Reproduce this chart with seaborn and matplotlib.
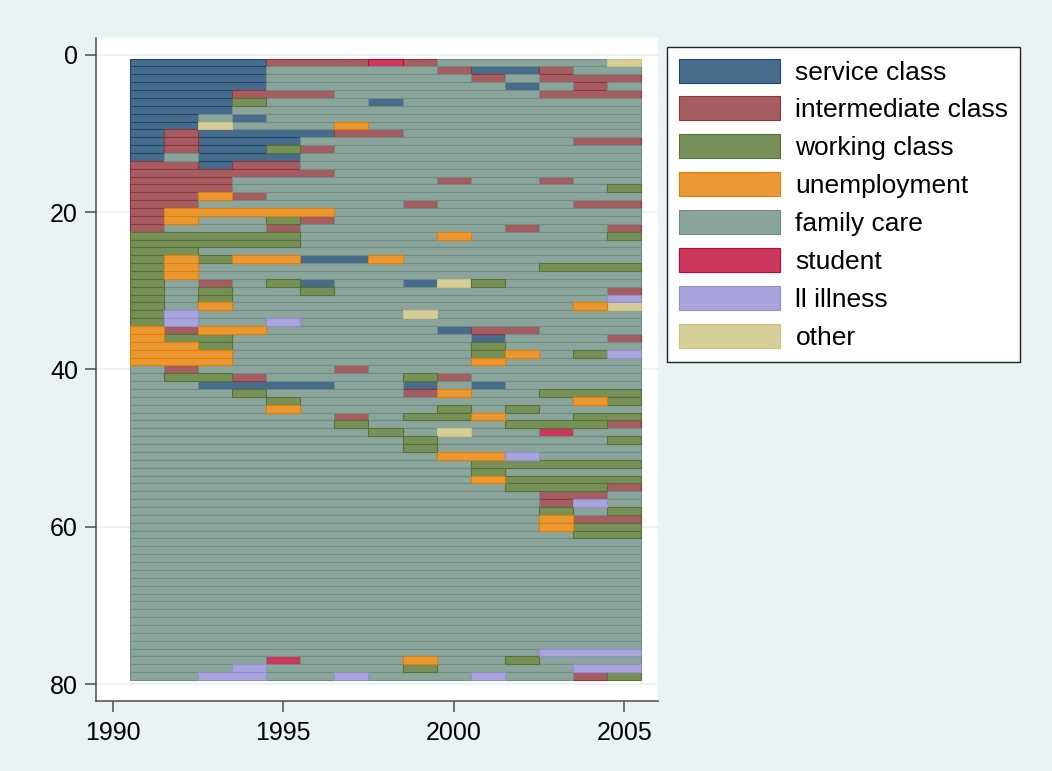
import matplotlib
matplotlib.use("Agg")
import matplotlib.pyplot as plt
from matplotlib.patches import Patch
import pandas as pd
import seaborn as sns

# Employment-status states (legend order), their codes and colours
states = ["service class", "intermediate class", "working class", "unemployment",
          "family care", "student", "ll illness", "other"]
state_codes = ["S", "I", "W", "U", "F", "T", "L", "O"]
fill_colors = ["#486c8c", "#a65d62", "#778f59", "#e99833",
               "#8ba59d", "#cd375d", "#a9a4db", "#d5ce98"]
edge_colors = ["#1a476f", "#90353b", "#55752f", "#e37e00",
               "#6e8e84", "#c10534", "#938dd2", "#cac27e"]

years = list(range(1991, 2006))

# One string per person, one letter per year 1991-2005
sequences = [
    "SSSSIIITIFFFFFO",
    "SSSSFFFFFISSIFF",
    "SSSSFFFFFFIFIII",
    "SSSSFFFFFFFSFIF",
    "SSSIIIFFFFFFIII",
    "SSSWFFFSFFFFFFF",
    "SSSFFFFFFFFFFFF",
    "SSFSFFFFFFFFFFF",
    "SSOFFFUFFFFFFFF",
    "SISSSSIIFFFFFFF",
    "SISSSFFFFFFFFII",
    "SISSWIFFFFFFFFF",
    "SFSSSFFFFFFFFFF",
    "IISIIFFFFFFFFFF",
    "IIIIIIFFFFFFFFF",
    "IIIFFFFFFIFFIFF",
    "IIIFFFFFFFFFFFW",
    "IIUIFFFFFFFFFFF",
    "IIFFFFFFIFFFFII",
    "IUUUUUFFFFFFFFF",
    "IUFFWIFFFFFFFFF",
    "IFFFIFFFFFFIFFI",
    "WWWWWFFFFUFFFFW",
    "WWWWWFFFFFFFFFF",
    "WWFFFFFFFFFFFFF",
    "WUWUUSSUFFFFFFF",
    "WUFFFFFFFFFFWWW",
    "WUFFFFFFFFFFFFF",
    "WFIFWSFFSOWFFFF",
    "WFWFFWFFFFFFFFI",
    "WFWFFFFFFFFFFFL",
    "WFUFFFFFFFFFFUO",
    "WLFFFFFFOFFFFFF",
    "WLFFLFFFFFFFFFF",
    "UIUUFFFFFSIIFFF",
    "UWWFFFFFFFSFFFI",
    "UUWFFFFFFFWFFFF",
    "UUUFFFFFFFWUFWL",
    "UUUFFFFFFFUFFFF",
    "FIFFFFIFFFFFFFF",
    "FWWIFFFFWIFFFFF",
    "FFSSSSFFSFSFFFF",
    "FFFWFFFFIUFFWWW",
    "FFFFWFFFFFFFFUW",
    "FFFFUFFFFWFWFFF",
    "FFFFFFIFWWUFFWW",
    "FFFFFFWFFFFWWWI",
    "FFFFFFFWFOFFTFF",
    "FFFFFFFFWFFFFFW",
    "FFFFFFFFWFFFFFF",
    "FFFFFFFFFUULFFF",
    "FFFFFFFFFFWWWWW",
    "FFFFFFFFFFWFFFF",
    "FFFFFFFFFFUWWWW",
    "FFFFFFFFFFFWWWI",
    "FFFFFFFFFFFFIIF",
    "FFFFFFFFFFFFILF",
    "FFFFFFFFFFFFWFW",
    "FFFFFFFFFFFFUII",
    "FFFFFFFFFFFFUWW",
    "FFFFFFFFFFFFFWW",
    "FFFFFFFFFFFFFFF",
    "FFFFFFFFFFFFFFF",
    "FFFFFFFFFFFFFFF",
    "FFFFFFFFFFFFFFF",
    "FFFFFFFFFFFFFFF",
    "FFFFFFFFFFFFFFF",
    "FFFFFFFFFFFFFFF",
    "FFFFFFFFFFFFFFF",
    "FFFFFFFFFFFFFFF",
    "FFFFFFFFFFFFFFF",
    "FFFFFFFFFFFFFFF",
    "FFFFFFFFFFFFFFF",
    "FFFFFFFFFFFFFFF",
    "FFFFFFFFFFFFFFF",
    "FFFFFFFFFFFFLLL",
    "FFFFTFFFUFFWFFF",
    "FFFLFFFFWFFFFLL",
    "FFLLFFLFFFLFFIW",
]

x_ticks = [1990, 1995, 2000, 2005]
y_ticks = [0, 20, 40, 60, 80]

# Collapse each sequence into spells (runs of the same state)
rows = []
for pid, seq in enumerate(sequences, start=1):
    start = 0
    for k in range(1, len(seq) + 1):
        if k == len(seq) or seq[k] != seq[start]:
            rows.append({"id": pid, "code": seq[start],
                         "start": years[start], "length": k - start})
            start = k
spells = pd.DataFrame(rows)

fill_pal = dict(zip(state_codes, sns.color_palette(fill_colors)))
edge_pal = dict(zip(state_codes, sns.color_palette(edge_colors)))

sns.set_theme(style="white")
plt.rcParams["font.family"] = ["Liberation Sans", "DejaVu Sans"]
plt.rcParams["text.color"] = "black"

bg = "#eaf2f3"
W, H = 1052, 771
fig = plt.figure(figsize=(W / 100, H / 100), dpi=100, facecolor=bg)
ax = fig.add_axes([95.7 / W, 70 / H, (658.3 - 95.7) / W, (733.3 - 70) / H])
ax.set_facecolor("white")

# Spells as horizontal bars, one row per person
for code, grp in spells.groupby("code", sort=False):
    ax.barh(grp["id"], grp["length"], left=grp["start"] - 0.5, height=1.0,
            color=fill_pal[code], edgecolor=edge_pal[code], linewidth=0.8,
            zorder=2)

ax.set_xlim(1989.5, 2006.0)
ax.set_ylim(82.16, -2.16)
ax.set_xticks(x_ticks)
ax.set_yticks(y_ticks)
ax.yaxis.grid(True, color=bg, linewidth=1.5, zorder=0)
ax.xaxis.grid(False)
ax.set_axisbelow(True)

for side in ["top", "right"]:
    ax.spines[side].set_visible(False)
for side in ["left", "bottom"]:
    ax.spines[side].set_color("#4d4d4d")
    ax.spines[side].set_linewidth(1.1)

ax.tick_params(axis="both", which="major", direction="out", length=7.7,
               width=1.1, color="#4d4d4d", labelsize=18, labelcolor="black",
               left=True, bottom=True)
ax.tick_params(axis="y", pad=5)
ax.tick_params(axis="x", pad=7)
ax.set_xlabel("")
ax.set_ylabel("")

handles = [Patch(facecolor=f, edgecolor=e, linewidth=0.8, label=s)
           for s, f, e in zip(states, fill_colors, edge_colors)]
leg = fig.legend(handles=handles, loc="upper left",
                 bbox_to_anchor=(666.7 / W, 1 - 46.7 / H), borderaxespad=0,
                 frameon=True, fancybox=False, framealpha=1, edgecolor="#222222",
                 fontsize=19, labelcolor="black", handlelength=3.83,
                 handleheight=1.02, handletextpad=0.6, borderpad=0.45,
                 labelspacing=0.45)
leg.get_frame().set_linewidth(1.0)
leg.get_frame().set_facecolor("white")

fig.savefig("out.png", dpi=100, facecolor=bg)
